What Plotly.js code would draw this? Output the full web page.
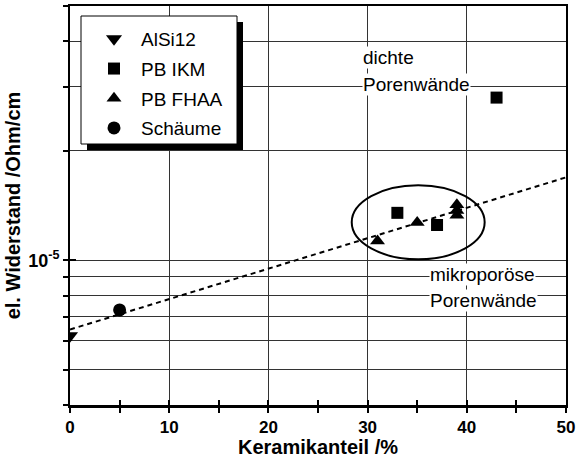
<!DOCTYPE html>
<html><head><meta charset="utf-8">
<script src="https://cdn.plot.ly/plotly-3.0.1.min.js"></script>
<style>html,body{margin:0;padding:0;background:#fff}#chart{width:577px;height:458px}</style>
</head><body><div id="chart"></div>
<script>
// ---- data ----
const alsiX = [0];
const alsiY = [6.2e-6];
const ikmX = [33, 37, 43];
const ikmY = [1.35e-5, 1.25e-5, 2.8e-5];
const fhaaX = [31, 35, 39, 39, 39];
const fhaaY = [1.13e-5, 1.27e-5, 1.33e-5, 1.37e-5, 1.42e-5];
const schaumX = [5];
const schaumY = [7.3e-6];
const fitX = [0, 50];
const fitY = [6.45e-6, 1.69e-5];
const xTickVals = [0, 10, 20, 30, 40, 50];
const xTickText = ['0', '10', '20', '30', '40', '50'];
const yTickVals = [4e-6, 5e-6, 6e-6, 7e-6, 8e-6, 9e-6, 1e-5, 2e-5, 3e-5, 4e-5, 5e-5];
const yTickText = [' ', ' ', ' ', ' ', ' ', ' ', '10<sup>-5</sup>', ' ', ' ', ' ', ' '];
const seriesNames = ['AlSi12', 'PB IKM', 'PB FHAA', 'Schäume'];

const FONT = 'Liberation Sans, Arial, sans-serif';
const mk = (sym, size) => ({symbol: sym, size: size, color: '#000', line: {width: 0}});

const traces = [
  {x: fitX, y: fitY, mode: 'lines', line: {color: '#000', width: 2, dash: '5px,4px'}, showlegend: false, hoverinfo: 'skip'},
  {x: alsiX, y: alsiY, mode: 'markers', name: seriesNames[0], legendgroup: 'a', marker: mk('triangle-down', 14)},
  {x: ikmX, y: ikmY, mode: 'markers', name: seriesNames[1], legendgroup: 'b', marker: mk('square', 12)},
  {x: fhaaX, y: fhaaY, mode: 'markers', name: seriesNames[2], legendgroup: 'c', marker: mk('triangle-up', 13)},
  {x: schaumX, y: schaumY, mode: 'markers', name: seriesNames[3], legendgroup: 'd', marker: mk('circle', 13)},
  {x: [null], y: [null], xaxis: 'x2', yaxis: 'y2', showlegend: false, hoverinfo: 'skip'}
];

const W = 496, H = 399, L = 70, T = 6;
const px = v => (v - L) / W;
const py = v => (T + H - v) / H;

const layout = {
  width: 577, height: 458,
  margin: {l: 70, r: 11, t: 6, b: 53},
  paper_bgcolor: '#fff', plot_bgcolor: '#fff',
  font: {family: FONT, color: '#000'},
  showlegend: true,
  legend: {
    x: px(87), y: py(20), xanchor: 'left', yanchor: 'top',
    bgcolor: 'rgba(0,0,0,0)', borderwidth: 0,
    font: {family: FONT, size: 19, color: '#000'},
    tracegroupgap: 2, traceorder: 'grouped', itemwidth: 44
  },
  xaxis: {
    range: [0, 50], tickvals: xTickVals, ticktext: xTickText.map(t => '<b>' + t + '</b>'),
    showgrid: true, gridcolor: '#333', gridwidth: 1, zeroline: false,
    showline: true, linecolor: '#000', linewidth: 2.5, mirror: true,
    ticks: 'outside', ticklen: 5, tickwidth: 2, tickcolor: '#000',
    minor: {dtick: 5, tick0: 0, ticks: 'outside', ticklen: 5, tickwidth: 2, tickcolor: '#000', showgrid: false},
    tickfont: {family: FONT, size: 17},
    title: {text: '<b>Keramikanteil /%</b>', font: {family: FONT, size: 20}, standoff: 1}
  },
  xaxis2: {
    overlaying: 'x', range: [0, 50], showgrid: false, zeroline: false, showticklabels: false,
    tickvals: xTickVals, ticks: 'inside', ticklen: 5, tickwidth: 2, tickcolor: '#000',
    minor: {dtick: 5, tick0: 0, ticks: 'inside', ticklen: 5, tickwidth: 2, tickcolor: '#000', showgrid: false}
  },
  yaxis: {
    type: 'log', range: [Math.log10(4e-6), Math.log10(5e-5)],
    tickvals: yTickVals, ticktext: yTickText.map(t => t.trim() ? '<b>' + t + '</b>' : t),
    showgrid: true, gridcolor: '#333', gridwidth: 1, zeroline: false,
    showline: true, linecolor: '#000', linewidth: 2, mirror: true,
    ticks: 'outside', ticklen: 5, tickwidth: 2, tickcolor: '#000',
    tickfont: {family: FONT, size: 18},
    title: {text: '<b>el. Widerstand /Ohm/cm</b>', font: {family: FONT, size: 20}, standoff: 2}
  },
  yaxis2: {
    overlaying: 'y', type: 'log', range: [Math.log10(4e-6), Math.log10(5e-5)],
    tickvals: [1e-5], showticklabels: false, showgrid: false, zeroline: false,
    ticks: 'inside', ticklen: 6, tickwidth: 2, tickcolor: '#000'
  },
  shapes: [
    {type: 'rect', xref: 'paper', yref: 'paper', x0: px(87), x1: px(243), y0: py(150), y1: py(22),
     fillcolor: '#000', line: {width: 0}, layer: 'above'},
    {type: 'rect', xref: 'paper', yref: 'paper', x0: px(81), x1: px(237), y0: py(144), y1: py(16),
     fillcolor: '#fff', line: {color: '#000', width: 1}, layer: 'above'},
    {type: 'circle', xref: 'x', yref: 'y', x0: 28.4, x1: 41.8, y0: 1.006e-5, y1: 1.607e-5,
     line: {color: '#000', width: 2}, fillcolor: 'rgba(0,0,0,0)', layer: 'above'}
  ],
  annotations: [
    {text: 'dichte', x: 29.4, y: Math.log10(3.6e-5), xref: 'x', yref: 'y', xanchor: 'left', yanchor: 'middle',
     showarrow: false, bgcolor: '#fff', borderpad: 0, font: {family: FONT, size: 19, color: '#000'}},
    {text: 'Porenwände', x: 29.4, y: Math.log10(3.04e-5), xref: 'x', yref: 'y', xanchor: 'left', yanchor: 'middle',
     showarrow: false, bgcolor: '#fff', borderpad: 0, font: {family: FONT, size: 19, color: '#000'}},
    {text: 'mikroporöse', x: 36.2, y: Math.log10(9.15e-6), xref: 'x', yref: 'y', xanchor: 'left', yanchor: 'middle',
     showarrow: false, bgcolor: '#fff', borderpad: 0, font: {family: FONT, size: 19, color: '#000'}},
    {text: 'Porenwände', x: 36.2, y: Math.log10(7.75e-6), xref: 'x', yref: 'y', xanchor: 'left', yanchor: 'middle',
     showarrow: false, bgcolor: '#fff', borderpad: 0, font: {family: FONT, size: 19, color: '#000'}}
  ]
};

Plotly.newPlot('chart', traces, layout, {displayModeBar: false, staticPlot: true});
</script>
</body></html>
